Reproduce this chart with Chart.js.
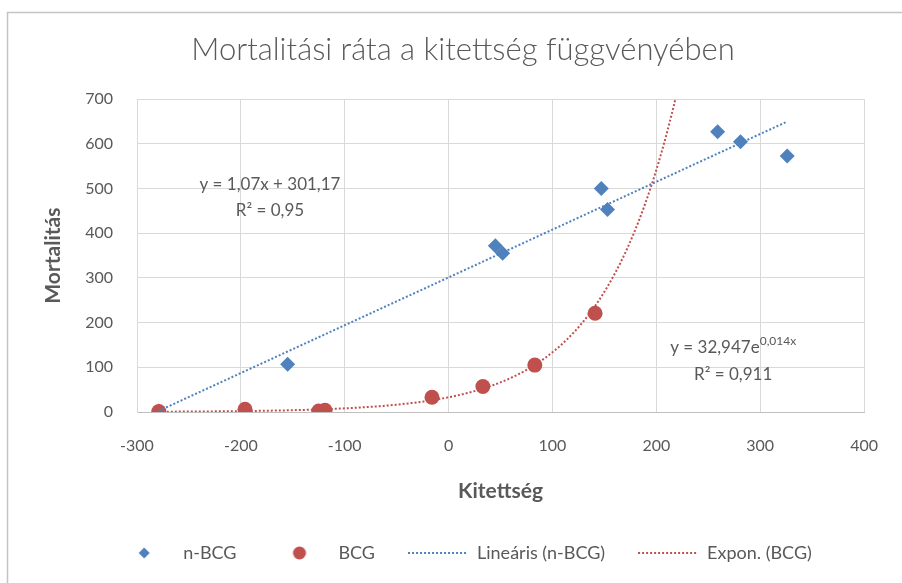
<!DOCTYPE html>
<html>
<head>
<meta charset="utf-8">
<script src="https://cdn.jsdelivr.net/npm/chart.js@4/dist/chart.umd.min.js"></script>
<style>
  body { margin: 0; background: #fff; }
  #wrap { width: 902px; height: 583px; }
</style>
</head>
<body>
<div id="wrap"><canvas id="mortChart" width="902" height="583"></canvas></div>
<script>
// adatok
const nbcgX = [-279, -155, 45, 52, 147, 153, 259, 281, 326];
const nbcgY = [2, 107, 372, 355, 500, 453, 627, 605, 573];
const bcgX = [-279, -196, -125, -119, -16, 33, 83, 141];
const bcgY = [1, 6, 2, 4, 33, 57, 105, 221];

// trendvonalak (a diagramon kiírt egyenletek)
const linSlope = 1.07;
const linIntercept = 301.17;
const expA = 32.947;
const expB = 0.014;

const xTicks = [-300, -200, -100, 0, 100, 200, 300, 400];
const yTicks = [0, 100, 200, 300, 400, 500, 600, 700];

const blue = '#4F81BD';
const red = '#C0504D';
const grey = '#595959';

Chart.defaults.font.family = 'Lato';
Chart.defaults.color = grey;

function toPoints(xs, ys) {
    return xs.map((x, i) => ({ x: x, y: ys[i] }));
}

// lineáris trend: a n-BCG x tartományán
const linXmin = Math.min(...nbcgX);
const linXmax = Math.max(...nbcgX);
const linTrend = [linXmin, linXmax].map(x => ({ x: x, y: linSlope * x + linIntercept }));

// exponenciális trend: a BCG első pontjától a tengely tetejéig
const expTrend = [];
const expXmax = Math.log(yTicks[yTicks.length - 1] / expA) / expB + 2;
for (let x = Math.min(...bcgX); x <= expXmax; x += 3) {
    expTrend.push({ x: x, y: expA * Math.exp(expB * x) });
}

// jelmagyarázat ikonok
function legendIcon(kind, color) {
    const c = document.createElement('canvas');
    c.width = 60; c.height = 16;
    const g = c.getContext('2d');
    g.fillStyle = color;
    g.strokeStyle = color;
    if (kind === 'diamond') {
        g.beginPath();
        g.moveTo(30, 2.5); g.lineTo(35.5, 8); g.lineTo(30, 13.5); g.lineTo(24.5, 8);
        g.closePath(); g.fill();
    } else if (kind === 'circle') {
        g.beginPath(); g.arc(30, 8, 6.5, 0, Math.PI * 2); g.fill();
    } else {
        g.lineWidth = 2;
        g.setLineDash([2, 2]);
        g.beginPath(); g.moveTo(0, 8); g.lineTo(60, 8); g.stroke();
    }
    return c;
}
const icons = [
    legendIcon('diamond', blue),
    legendIcon('circle', red),
    legendIcon('line', blue),
    legendIcon('line', red)
];

const frame = {
    id: 'frame',
    beforeDraw(chart) {
        const ctx = chart.ctx;
        ctx.save();
        ctx.fillStyle = '#fff';
        ctx.fillRect(0, 0, chart.width, chart.height);
        ctx.strokeStyle = '#c4c4c4';
        ctx.lineWidth = 1.5;
        ctx.beginPath();
        ctx.moveTo(7.5, chart.height);
        ctx.lineTo(7.5, 12.5);
        ctx.lineTo(chart.width, 12.5);
        ctx.stroke();
        ctx.restore();
    }
};

const trendLabels = {
    id: 'trendLabels',
    afterDatasetsDraw(chart) {
        const { ctx, scales: { x, y } } = chart;
        ctx.save();
        ctx.fillStyle = grey;
        ctx.textBaseline = 'middle';
        ctx.textAlign = 'center';
        ctx.font = '17px Lato';
        ctx.fillText('y = 1,07x + 301,17', x.getPixelForValue(-172), y.getPixelForValue(508));
        ctx.fillText('R² = 0,95', x.getPixelForValue(-172), y.getPixelForValue(450));

        const main = 'y = 32,947e';
        const sup = '0,014x';
        const w1 = ctx.measureText(main).width;
        ctx.font = '12px Lato';
        const w2 = ctx.measureText(sup).width;
        const cx = x.getPixelForValue(274);
        const cy = y.getPixelForValue(145);
        const sx = cx - (w1 + w2) / 2;
        ctx.textAlign = 'left';
        ctx.font = '17px Lato';
        ctx.fillText(main, sx, cy);
        ctx.font = '12px Lato';
        ctx.fillText(sup, sx + w1, cy - 6);
        ctx.textAlign = 'center';
        ctx.font = '17px Lato';
        ctx.fillText('R² = 0,911', x.getPixelForValue(274), y.getPixelForValue(85));
        ctx.restore();
    }
};

const ctx = document.getElementById('mortChart').getContext('2d');
const mortChart = new Chart(ctx, {
    type: 'scatter',
    data: {
        datasets: [{
            label: 'n-BCG',
            data: toPoints(nbcgX, nbcgY),
            pointStyle: 'rectRot',
            pointRadius: 7.5,
            pointHoverRadius: 7.5,
            backgroundColor: blue,
            borderColor: blue,
            borderWidth: 0,
            order: 2
        }, {
            label: 'BCG',
            data: toPoints(bcgX, bcgY),
            pointStyle: 'circle',
            pointRadius: 7.5,
            pointHoverRadius: 7.5,
            backgroundColor: red,
            borderColor: red,
            borderWidth: 0,
            order: 1
        }, {
            label: 'Lineáris (n-BCG)',
            type: 'line',
            data: linTrend,
            borderColor: blue,
            borderWidth: 2,
            borderDash: [2, 2],
            pointRadius: 0,
            fill: false,
            order: 0
        }, {
            label: 'Expon. (BCG)',
            type: 'line',
            data: expTrend,
            borderColor: red,
            borderWidth: 2,
            borderDash: [2, 2],
            pointRadius: 0,
            tension: 0,
            fill: false,
            order: 0
        }]
    },
    options: {
        responsive: false,
        animation: false,
        layout: { padding: { left: 30, right: 6, top: 0, bottom: 11 } },
        plugins: {
            title: {
                display: true,
                text: 'Mortalitási ráta a kitettség függvényében',
                color: grey,
                font: { size: 31, weight: '300' },
                padding: { top: 31, bottom: 31 }
            },
            legend: {
                position: 'bottom',
                labels: {
                    usePointStyle: true,
                    pointStyleWidth: 60,
                    padding: 33,
                    color: grey,
                    font: { size: 18 },
                    sort: (a, b) => a.datasetIndex - b.datasetIndex,
                    generateLabels(chart) {
                        const items = Chart.defaults.plugins.legend.labels.generateLabels(chart);
                        items.forEach(item => { item.pointStyle = icons[item.datasetIndex]; });
                        return items;
                    }
                }
            },
            tooltip: { enabled: false }
        },
        scales: {
            x: {
                type: 'linear',
                min: -300,
                max: 400,
                afterBuildTicks: axis => { axis.ticks = xTicks.map(v => ({ value: v })); },
                afterFit: axis => { axis.height = 99; },
                grid: { color: '#d9d9d9', drawTicks: false },
                border: { color: '#bfbfbf' },
                ticks: { padding: 24, color: grey, font: { size: 16 } },
                title: {
                    display: true,
                    text: 'Kitettség',
                    color: grey,
                    font: { size: 21, weight: 'bold' },
                    padding: { top: 0, bottom: 7 }
                }
            },
            y: {
                type: 'linear',
                min: 0,
                max: 700,
                afterBuildTicks: axis => { axis.ticks = yTicks.map(v => ({ value: v })); },
                afterFit: axis => { axis.width = 107; },
                grid: { color: '#d9d9d9', drawTicks: false },
                border: { color: '#d9d9d9' },
                ticks: { padding: 24, color: grey, font: { size: 16 } },
                title: {
                    display: true,
                    text: 'Mortalitás',
                    color: grey,
                    font: { size: 21, weight: 'bold' },
                    padding: { top: 11, bottom: 0 }
                }
            },
            // üres tengely jobb oldalon, hogy a jelmagyarázat és cím középre kerüljön
            y2: {
                position: 'right',
                display: true,
                grid: { display: false },
                border: { display: false },
                ticks: { display: false },
                afterFit: axis => { axis.width = 30; }
            }
        }
    },
    plugins: [frame, trendLabels]
});
</script>
</body>
</html>
